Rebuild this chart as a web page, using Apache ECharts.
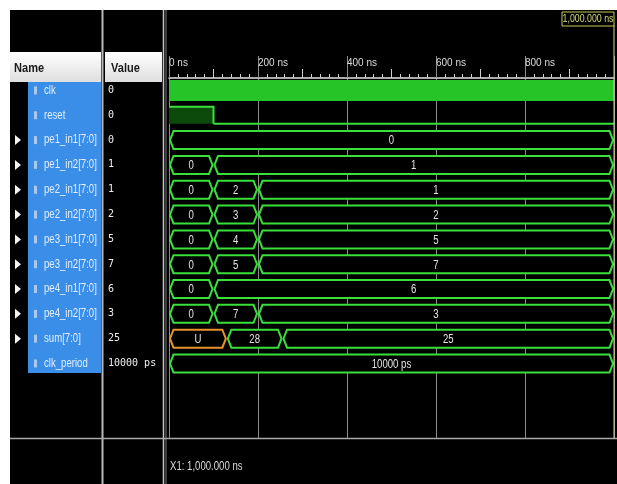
<!DOCTYPE html>
<html>
<head>
<meta charset="utf-8">
<script src="https://cdn.jsdelivr.net/npm/echarts@6/dist/echarts.min.js"></script>
<style>
  html, body { margin: 0; padding: 0; background: #fff; }
  #chart { width: 617px; height: 484px; }
</style>
</head>
<body>
<div id="chart"></div>
<script>
// signal list (row order, top to bottom)
const signalNames = ['clk', 'reset', 'pe1_in1[7:0]', 'pe1_in2[7:0]', 'pe2_in1[7:0]', 'pe2_in2[7:0]',
  'pe3_in1[7:0]', 'pe3_in2[7:0]', 'pe4_in1[7:0]', 'pe4_in2[7:0]', 'sum[7:0]', 'clk_period'];
const signalValues = ['0', '0', '0', '1', '1', '2', '5', '7', '6', '3', '25', '10000 ps'];
const expandable = [false, false, true, true, true, true, true, true, true, true, true, false];

// waveforms, times in ns: [start, end, value]
const clkWave = [[0, 1000]];
const resetWave = [[0, 100, 1], [100, 1000, 0]];
const pe1In1 = [[0, 1000, '0']];
const pe1In2 = [[0, 100, '0'], [100, 1000, '1']];
const pe2In1 = [[0, 100, '0'], [100, 200, '2'], [200, 1000, '1']];
const pe2In2 = [[0, 100, '0'], [100, 200, '3'], [200, 1000, '2']];
const pe3In1 = [[0, 100, '0'], [100, 200, '4'], [200, 1000, '5']];
const pe3In2 = [[0, 100, '0'], [100, 200, '5'], [200, 1000, '7']];
const pe4In1 = [[0, 100, '0'], [100, 1000, '6']];
const pe4In2 = [[0, 100, '0'], [100, 200, '7'], [200, 1000, '3']];
const sumWave = [[0, 130, 'U'], [130, 255, '28'], [255, 1000, '25']];
const clkPeriodWave = [[0, 1000, '10000 ps']];

const timeLabels = [0, 200, 400, 600, 800];
const cursorTime = 1000;
const cursorText = '1,000.000 ns';
const cursorInfo = 'X1: 1,000.000 ns';

const FONT = '"Liberation Sans", Arial, sans-serif';
const NARROW = 0.8;   // squeeze text horizontally, the ISim font is condensed
const GREEN = '#3ae03a';

const busRows = [pe1In1, pe1In2, pe2In1, pe2In2, pe3In1, pe3In2, pe4In1, pe4In2, sumWave, clkPeriodWave];
const busItems = [];
busRows.forEach((segs, i) => {
  segs.forEach(s => busItems.push({ row: i + 2, start: s[0], end: s[1], text: s[2] }));
});

function narrowText(x, y, text, fill, size, extra) {
  return Object.assign({ type: 'text', x: x, y: y, scaleX: NARROW,
    style: { text: text, fill: fill, font: size + 'px ' + FONT, verticalAlign: 'middle' } }, extra || {});
}

function renderBus(params, api) {
  const b = busItems[params.dataIndex];
  const p0 = api.coord([b.start, b.row]);
  const p1 = api.coord([b.end, b.row]);
  const h = 9, s = 3.5;
  const x0 = p0[0] + 1, x1 = p1[0] - 1, y = p0[1];
  const color = b.text === 'U' ? '#e8922c' : GREEN;
  const label = narrowText((x0 + x1) / 2, y + 1, b.text, '#e4e4e4', 12);
  label.style.align = 'center';
  return {
    type: 'group',
    children: [
      { type: 'polygon',
        shape: { points: [[x0, y], [x0 + s, y - h], [x1 - s, y - h], [x1, y], [x1 - s, y + h], [x0 + s, y + h]] },
        style: { fill: '#000', stroke: color, lineWidth: 2 } },
      label
    ]
  };
}

function renderClk(params, api) {
  const p0 = api.coord([api.value(0), 0]);
  const p1 = api.coord([api.value(2), 0]);
  return { type: 'rect', shape: { x: p0[0], y: p0[1] - 10.5, width: p1[0] - p0[0], height: 21 },
    style: { fill: '#26c426' } };
}

function renderReset(params, api) {
  const p0 = api.coord([api.value(0), 1]);
  const p1 = api.coord([api.value(2), 1]);
  const top = p0[1] - 8.5, bot = p0[1] + 8.5;
  if (api.value(3) === 1) {
    return { type: 'group', children: [
      { type: 'rect', shape: { x: p0[0], y: top, width: p1[0] - p0[0], height: bot - top }, style: { fill: '#0c4a0c' } },
      { type: 'polyline', shape: { points: [[p0[0], top], [p1[0], top], [p1[0], bot]] },
        style: { stroke: GREEN, lineWidth: 2, fill: null } }
    ] };
  }
  return { type: 'line', shape: { x1: p0[0], y1: bot, x2: p1[0], y2: bot }, style: { stroke: GREEN, lineWidth: 2 } };
}

function renderNames(params, api) {
  const row = api.value(0);
  const y = api.coord([0, row])[1];
  const children = [
    { type: 'rect', shape: { x: 34, y: y - 4, width: 3, height: 8 }, style: { fill: '#a9c9ee' } },
    narrowText(44, y, signalNames[row], '#e2eeff', 12),
    { type: 'text', x: 108, y: y, style: { text: signalValues[row], fill: '#efefef', font: '10px "DejaVu Sans Mono", monospace', verticalAlign: 'middle' } }
  ];
  if (expandable[row]) {
    children.push({ type: 'polygon', shape: { points: [[15, y - 5], [21, y], [15, y + 5]] }, style: { fill: '#f4f4f4' } });
  }
  return { type: 'group', children: children };
}

function renderCursor(params, api) {
  const p = api.coord([api.value(0), 0]);
  const x = p[0];
  const boxLabel = narrowText(x - 26, 19, cursorText, '#d8d870', 11);
  boxLabel.style.align = 'center';
  return { type: 'group', children: [
    { type: 'line', shape: { x1: x, y1: 25, x2: x, y2: 438 }, style: { stroke: '#d6d690', lineWidth: 1 } },
    { type: 'rect', shape: { x: x - 52, y: 12, width: 52, height: 14 }, style: { fill: '#000', stroke: '#c8c85a', lineWidth: 1 } },
    boxLabel,
    narrowText(170, 467, cursorInfo, '#dcdcdc', 12)
  ] };
}

const chart = echarts.init(document.getElementById('chart'), null, { renderer: 'canvas' });

const option = {
  backgroundColor: '#000',
  animation: false,
  grid: { left: 169, right: 2, top: 78, height: 360 },
  xAxis: [
    {
      type: 'value', position: 'top', min: 0, max: 1000, interval: 100,
      axisLine: { show: true, onZero: false, lineStyle: { color: '#e6e6e6', width: 1.5 } },
      axisTick: { show: true, length: 9, lineStyle: { color: '#cfcfcf' } },
      minorTick: { show: true, splitNumber: 5, length: 4, lineStyle: { color: '#cfcfcf' } },
      axisLabel: {
        formatter: v => timeLabels.indexOf(v) >= 0 ? v + ' ns' : '',
        align: 'left', margin: 10, color: '#dcdcdc', fontSize: 10, fontFamily: FONT
      },
      splitLine: { show: false }
    },
    {
      // grid lines every 200 ns, running up through the time ruler
      type: 'value', position: 'top', min: 0, max: 1000, interval: 200,
      axisLine: { show: false, onZero: false },
      axisTick: { show: true, length: 22, lineStyle: { color: '#8c8c8c' } },
      axisLabel: { show: false },
      splitLine: { show: true, lineStyle: { color: '#8c8c8c', width: 1 } }
    }
  ],
  yAxis: { type: 'value', min: -0.5, max: 14, inverse: true, show: false },
  graphic: [
    { type: 'rect', shape: { x: 0, y: 0, width: 617, height: 10 }, style: { fill: '#fff' } },
    { type: 'rect', shape: { x: 0, y: 0, width: 10, height: 484 }, style: { fill: '#fff' } },
    { type: 'rect', shape: { x: 10, y: 52, width: 91, height: 30 },
      style: { fill: new echarts.graphic.LinearGradient(0, 0, 0, 1, [{ offset: 0, color: '#ffffff' }, { offset: 1, color: '#dedede' }]) } },
    { type: 'rect', shape: { x: 105, y: 52, width: 57, height: 30 },
      style: { fill: new echarts.graphic.LinearGradient(0, 0, 0, 1, [{ offset: 0, color: '#ffffff' }, { offset: 1, color: '#dedede' }]) } },
    { type: 'text', x: 14, y: 68, scaleX: 0.85, style: { text: 'Name', fill: '#1a1a1a', font: 'bold 13px ' + FONT, verticalAlign: 'middle' } },
    { type: 'text', x: 111, y: 68, scaleX: 0.85, style: { text: 'Value', fill: '#1a1a1a', font: 'bold 13px ' + FONT, verticalAlign: 'middle' } },
    { type: 'rect', shape: { x: 28, y: 82, width: 73, height: 291 }, style: { fill: '#3b8ee8' } },
    { type: 'line', shape: { x1: 102.5, y1: 10, x2: 102.5, y2: 484 }, style: { stroke: '#b8b8b8', lineWidth: 2 } },
    { type: 'line', shape: { x1: 163.5, y1: 10, x2: 163.5, y2: 484 }, style: { stroke: '#c4c4c4', lineWidth: 1.5 } },
    { type: 'line', shape: { x1: 166, y1: 10, x2: 166, y2: 484 }, style: { stroke: '#7a7a7a', lineWidth: 1 } },
    { type: 'line', shape: { x1: 10, y1: 438.5, x2: 617, y2: 438.5 }, style: { stroke: '#a8a8a8', lineWidth: 1.5 } }
  ],
  series: [
    { type: 'custom', name: 'clk', renderItem: renderClk, data: clkWave.map(s => [s[0], 0, s[1]]), encode: { x: [0, 2], y: 1 } },
    { type: 'custom', name: 'reset', renderItem: renderReset, data: resetWave.map(s => [s[0], 1, s[1], s[2]]), encode: { x: [0, 2], y: 1 } },
    { type: 'custom', name: 'buses', renderItem: renderBus, data: busItems.map(b => [b.start, b.row, b.end]), encode: { x: [0, 2], y: 1 } },
    { type: 'custom', name: 'names', renderItem: renderNames, clip: false, data: signalNames.map((n, i) => [i]), encode: { y: 0 } },
    { type: 'custom', name: 'cursor', renderItem: renderCursor, clip: false, data: [[cursorTime]], encode: { x: 0 } }
  ]
};

chart.setOption(option);
window.addEventListener('resize', () => chart.resize());
</script>
</body>
</html>
